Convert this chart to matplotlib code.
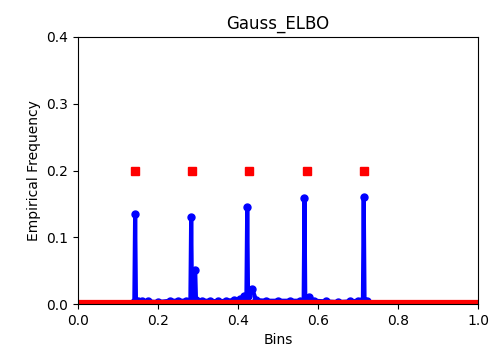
import matplotlib
matplotlib.use("Agg")
import matplotlib.pyplot as plt

# true mode locations (red squares) and their weight
true_x = [0.1429, 0.2857, 0.4286, 0.5714, 0.7143]
true_y = [0.2, 0.2, 0.2, 0.2, 0.2]

# red baseline (true density over bins, zero elsewhere)
base_x = [0.0, 1.0]
base_y = [0.002, 0.002]

# empirical frequency per bin (blue)
emp_x = [0.141, 0.143, 0.145, 0.150, 0.160, 0.175, 0.200, 0.230, 0.250, 0.270,
         0.281, 0.283, 0.285, 0.293, 0.295, 0.310, 0.330, 0.350, 0.370, 0.390,
         0.405, 0.416, 0.421, 0.423, 0.425, 0.436, 0.445, 0.470, 0.500, 0.530,
         0.555, 0.564, 0.566, 0.568, 0.578, 0.590, 0.620, 0.650, 0.680, 0.700,
         0.712, 0.714, 0.716, 0.722]
emp_y = [0.003, 0.135, 0.004, 0.005, 0.004, 0.004, 0.003, 0.005, 0.005, 0.005,
         0.005, 0.131, 0.005, 0.051, 0.006, 0.005, 0.005, 0.004, 0.005, 0.006,
         0.008, 0.012, 0.012, 0.145, 0.012, 0.022, 0.006, 0.005, 0.005, 0.005,
         0.005, 0.005, 0.159, 0.006, 0.010, 0.005, 0.004, 0.003, 0.004, 0.005,
         0.006, 0.160, 0.005, 0.004]

fig=plt.figure(figsize=(4.93, 3.59), dpi=100)
ax=fig.add_axes([0.158, 0.153, 0.812, 0.744])

ax.plot(emp_x, emp_y, color='blue', lw=3, marker='o', markersize=5)
ax.plot(base_x, base_y, color='red', lw=4.5)
ax.plot(true_x, true_y, 's', color='red', markersize=5.5)

ax.set_xlim(0, 1)
ax.set_ylim(0, 0.4)
ax.set_xticks([0.0, 0.2, 0.4, 0.6, 0.8, 1.0])
ax.set_yticks([0.0, 0.1, 0.2, 0.3, 0.4])
ax.set_xlabel("Bins")
ax.set_ylabel("Empirical Frequency")
ax.set_title("Gauss_ELBO")

fig.savefig("out.png")
